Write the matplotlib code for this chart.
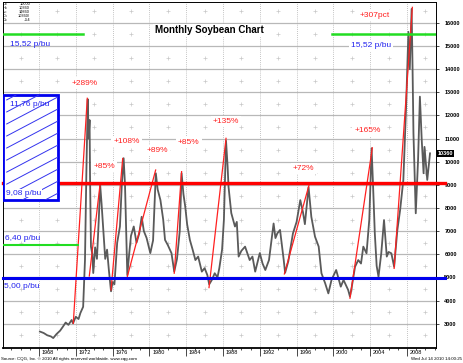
#monthly soybean chart with support levels and rally lines

import matplotlib
matplotlib.use("Agg")
import matplotlib.pyplot as plt
from matplotlib.patches import Rectangle
import numpy as np

plt.rcParams['font.family'] = ['Liberation Sans', 'DejaVu Sans']

# price path (year, cents/bu)
years = [1968.1, 1968.5, 1968.9, 1969.3, 1969.55, 1969.9, 1970.3, 1970.6, 1970.9, 1971.2,
         1971.55, 1971.7, 1972.0, 1972.3, 1972.5, 1972.8, 1973.0, 1973.15, 1973.3, 1973.4,
         1973.5, 1973.55, 1973.65, 1973.8, 1973.9, 1974.1, 1974.3, 1974.5, 1974.65, 1974.8,
         1975.0, 1975.2, 1975.4, 1975.6, 1975.83, 1976.0, 1976.2, 1976.5, 1976.8, 1977.0,
         1977.2, 1977.35, 1977.45, 1977.6, 1977.8, 1978.0, 1978.3, 1978.6, 1978.9, 1979.16,
         1979.4, 1979.7, 1980.1, 1980.4, 1980.7, 1980.9, 1981.2, 1981.5, 1981.7, 1982.0,
         1982.4, 1982.7, 1983.0, 1983.3, 1983.5, 1983.7, 1983.9, 1984.1, 1984.4, 1984.7,
         1985.0, 1985.3, 1985.7, 1986.0, 1986.3, 1986.5, 1986.8, 1987.1, 1987.4, 1987.6,
         1987.9, 1988.1, 1988.33, 1988.5, 1988.6, 1988.9, 1989.3, 1989.5, 1989.7, 1990.0,
         1990.4, 1990.9, 1991.2, 1991.5, 1992.0, 1992.3, 1992.6, 1993.0, 1993.5, 1993.7,
         1993.9, 1994.2, 1994.6, 1994.75, 1995.1, 1995.6, 1996.0, 1996.4, 1996.7, 1996.9,
         1997.3, 1997.6, 1998.0, 1998.4, 1998.7, 1999.1, 1999.45, 1999.8, 2000.3, 2000.8,
         2001.1, 2001.6, 2001.8, 2002.0, 2002.35, 2002.7, 2003.0, 2003.25, 2003.6, 2003.9,
         2004.15, 2004.3, 2004.5, 2004.7, 2004.9, 2005.2, 2005.5, 2005.8, 2006.0, 2006.3,
         2006.6, 2006.95, 2007.25, 2007.6, 2007.9, 2008.15, 2008.3, 2008.5, 2008.6, 2008.7,
         2008.87, 2008.95, 2009.2, 2009.4, 2009.6, 2009.8, 2009.9, 2010.2, 2010.35, 2010.5]
prices = [2660, 2600, 2500, 2450, 2380, 2550, 2700, 2870, 3050, 2950,
          3160, 3015, 3300, 3200, 3460, 3730, 5750, 9500, 12700, 11000,
          11800, 9350, 6330, 6000, 5190, 6300, 5800, 7500, 9000, 8200,
          7000, 5800, 6200, 5300, 4400, 4800, 4700, 6500, 7200, 9000,
          10150, 9000, 7480, 5100, 6000, 6800, 7200, 6500, 6900, 7620,
          7000, 6700, 6050, 6600, 9500, 8800, 8340, 7500, 6620, 6400,
          6050, 5250, 5800, 7000, 9500, 8600, 8050, 7300, 6620, 6200,
          5750, 5900, 5250, 5400, 5100, 4700, 4900, 5180, 5000, 5400,
          6200, 7500, 10900, 9800, 8920, 7780, 7200, 7400, 5900, 6150,
          6330, 5750, 5900, 5250, 6050, 5600, 5320, 5750, 7330, 6700,
          6900, 7050, 5750, 5200, 5700, 6900, 7400, 8340, 7800, 7300,
          8900, 7620, 6760, 6330, 5180, 4750, 4310, 4900, 5320, 4600,
          4890, 4460, 4170, 4600, 5460, 5750, 5600, 6330, 6040, 7500,
          10580, 9070, 6900, 5500, 5030, 6040, 7480, 5900, 6100, 6040,
          5460, 7050, 7910, 9210, 12370, 15610, 14000, 16600, 14100, 11220,
          8920, 7770, 10070, 12810, 10930, 9500, 10640, 9210, 9800, 10360]

# rally lines: start/end and labels
rally_x0 = [1971.73, 1973.47, 1975.83, 1977.6, 1982.7, 1986.48, 1994.67, 2001.8, 2006.6]
rally_y0 = [3015, 5060, 4460, 5030, 5180, 4560, 5150, 4100, 5390]
rally_x1 = [1973.25, 1974.63, 1977.1, 1980.68, 1983.5, 1988.33, 1997.35, 2004.23, 2008.58]
rally_y1 = [12740, 8990, 10140, 9640, 9570, 11010, 8990, 10600, 16670]
rally_labels = ['+289%', '+85%', '+108%', '+89%', '+85%', '+135%', '+72%', '+165%', '+307pct']
label_x = [1971.6, 1973.9, 1976.1, 1979.7, 1983.1, 1986.9, 1995.6, 2002.3, 2002.9]
label_y = [13400, 9810, 10860, 10470, 10820, 11730, 9710, 11340, 16330]

green_level = 15520
green_low = 6400
red_level = 9080
blue_level = 4980
box_top, box_bottom = 12880, 8340

fig = plt.figure(figsize=(4.63, 3.63), dpi=100)
ax = fig.add_axes([3/463, 15/363, 433/463, 346/363])
x0, x1 = 1964.09, 2011.15
ax.set_xlim(x0, x1)
ax.set_ylim(1950, 16900)

# grid
for v in range(3000, 17000, 1000):
    ax.axhline(v, color='#b8b8b8', lw=0.9, zorder=0)
for yr in range(1968, 2012, 4):
    ax.axvline(yr, color='#b0b0b0', lw=0.6, ls=(0, (1, 1.5)), zorder=0)
px, py = np.meshgrid(np.arange(1966, 2012, 4), np.arange(2500, 17000, 1000))
ax.plot(px.ravel(), py.ravel(), '+', color='#c8c8c8', ms=2.5, mew=0.5, zorder=0)

ax.plot(years, prices, color='#5a5a5a', lw=1.3, zorder=3)

for i in range(len(rally_x0)):
    ax.plot([rally_x0[i], rally_x1[i]], [rally_y0[i], rally_y1[i]], color='#ff2020', lw=0.9, zorder=4)
    ax.text(label_x[i], label_y[i], rally_labels[i], color='#ff2020', fontsize=6, ha='left', va='center',
            zorder=5, bbox=dict(facecolor='white', edgecolor='none', pad=1.5))

# levels
ax.plot([x0, 1972.8], [green_level, green_level], color='#22dd22', lw=1.8, zorder=4)
ax.plot([1999.8, x1], [green_level, green_level], color='#22dd22', lw=1.8, zorder=4)
ax.plot([x0, 1972.2], [green_low, green_low], color='#22dd22', lw=1.5, zorder=4)
ax.plot([x0, x1 + 1], [red_level, red_level], color='#ff0000', lw=2.4, zorder=4, clip_on=False)
ax.plot([x0, x1 + 1], [blue_level, blue_level], color='#0000ee', lw=2.2, zorder=4, clip_on=False)

# hatched box
rect = Rectangle((x0, box_bottom), 1970.07 - x0, box_top - box_bottom, facecolor='white',
                 edgecolor='#0000ee', lw=2, zorder=5)
ax.add_patch(rect)
rise = 1170
for yb in np.arange(box_bottom - rise + 300, box_top, 520):
    ln, = ax.plot([x0 + 0.4, 1970.07], [yb, yb + rise], color='#3333ee', lw=0.7, zorder=6)
    ln.set_clip_path(rect)

blue = '#2222ee'
ax.text(1964.8, 15050, '15,52 p/bu', color=blue, fontsize=6, va='center', zorder=7)
ax.text(2001.9, 15000, '15,52 p/bu', color=blue, fontsize=6, va='center', zorder=7,
        bbox=dict(facecolor='white', edgecolor='none', pad=1.5))
ax.text(1964.8, 12450, '11,76 p/bu', color=blue, fontsize=6, va='center', zorder=7)
ax.text(1964.4, 8640, '9,08 p/bu', color=blue, fontsize=6, va='center', zorder=7,
        bbox=dict(facecolor='white', edgecolor='none', pad=0.5))
ax.text(1964.3, 6700, '6,40 p/bu', color=blue, fontsize=6, va='center', zorder=7)
ax.text(1964.2, 4600, '5,00 p/bu', color=blue, fontsize=6, va='center', zorder=7)

ax.text(1986.5, 15690, 'Monthly Soybean Chart', fontsize=7, fontweight='bold', ha='center',
        va='center', zorder=7, bbox=dict(facecolor='white', edgecolor='none', pad=1))

# axes styling
ax.yaxis.tick_right()
ax.set_yticks(range(3000, 17000, 1000))
ax.set_yticklabels([str(v) for v in range(3000, 17000, 1000)], fontsize=4, fontweight='bold')
ax.tick_params(axis='y', length=2, width=0.5, pad=4)
ax.set_xticks(range(1968, 2012, 4))
ax.set_xticklabels([])
ax.set_xticks(range(1965, 2012), minor=True)
ax.tick_params(axis='x', which='major', length=6, width=0.5)
ax.tick_params(axis='x', which='minor', length=1.5, width=0.5)
for yr in range(1968, 2012, 4):
    ax.text(yr + 0.3, -0.006, str(yr), transform=ax.get_xaxis_transform(), fontsize=4,
            ha='left', va='top')
for s in ax.spines.values():
    s.set_linewidth(0.7)
ax.spines['bottom'].set_linewidth(1.3)

# last price box
ax.text(1.004, (10360 - 1950) / (16900 - 1950), '10360', transform=ax.transAxes, fontsize=4,
        fontweight='bold', color='white', va='center', ha='left',
        bbox=dict(facecolor='black', edgecolor='none', pad=0.8))

# header values
hdr_l = ['O=', 'H=', 'L=', 'C=', 'D=']
hdr_v = ['10000', '10360', '10360', '10360/', '+54']
for i in range(5):
    fig.text(3/463, 1 - (4 + 4 * i) / 363, hdr_l[i], fontsize=2.8, va='center')
    fig.text(30/463, 1 - (4 + 4 * i) / 363, hdr_v[i], fontsize=2.8, va='center', ha='right')

fig.text(0.002, 0.008, 'Source: CQG, Inc. \u00a9 2010 All rights reserved worldwide. www.cqg.com',
         fontsize=3.2)
fig.text(0.998, 0.008, 'Wed Jul 14 2010 14:00:25', fontsize=3.2, ha='right')

fig.savefig('out.png', dpi=100)
